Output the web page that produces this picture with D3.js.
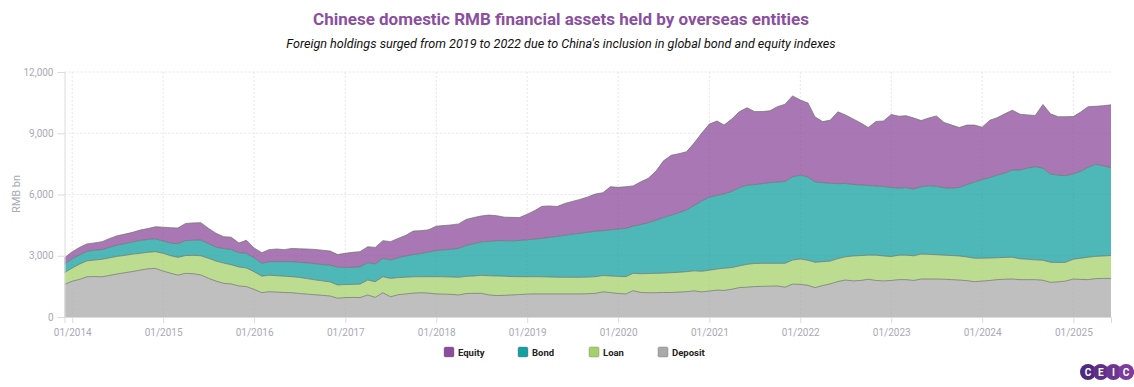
<!DOCTYPE html>
<html><head><meta charset="utf-8">
<script src="https://cdn.jsdelivr.net/npm/d3@7"></script>
<style>
html,body{margin:0;padding:0;background:#fff;}
svg{display:block;font-family:Roboto,"Noto Sans",sans-serif;}
</style></head>
<body><svg id="chart" width="1134" height="387"></svg>
<script>
// Monthly data, Dec 2013 – Jun 2025 (RMB bn)
const startMonth = "2013-12";
const seriesNames = ["Equity", "Bond", "Loan", "Deposit"];
const deposit = [1600,1750,1850,1970,1980,1970,2040,2110,2170,2230,2300,2360,2380,2250,2140,2050,2140,2120,2060,1900,1760,1650,1620,1520,1490,1350,1190,1240,
1220,1200,1190,1150,1120,1090,1060,1030,920,950,960,950,1080,960,1190,990,1090,1130,1170,1190,1170,1130,1120,1110,1080,1150,1160,1160,
1080,1050,1060,1080,1100,1120,1130,1130,1130,1130,1130,1130,1130,1140,1160,1230,1200,1150,1130,1290,1200,1190,1190,1200,1200,1220,1240,1280,
1230,1270,1320,1300,1360,1440,1460,1490,1500,1510,1520,1460,1610,1600,1550,1440,1540,1620,1740,1810,1770,1790,1850,1790,1770,1790,1830,
1830,1790,1860,1860,1860,1850,1830,1810,1780,1730,1760,1790,1830,1850,1860,1830,1830,1830,1800,1700,1720,1760,1860,1840,1830,1880,1890,1890];
const loan = [580,650,750,780,810,860,860,860,850,850,820,810,820,870,860,870,870,900,940,980,980,990,940,930,910,870,810,810,
800,800,785,790,760,730,710,690,650,640,640,660,730,770,785,900,840,820,800,785,805,845,850,850,865,840,850,880,
940,960,940,900,875,855,845,840,830,820,815,815,815,815,815,800,810,840,845,850,920,940,950,950,970,970,980,980,
1010,1020,1030,1090,1060,1060,1120,1130,1130,1120,1110,1170,1180,1240,1230,1240,1170,1120,1120,1140,1220,1220,1180,1240,1220,1170,1200,
1200,1210,1220,1210,1190,1180,1180,1180,1160,1150,1120,1100,1070,1070,1070,1020,1000,970,980,980,950,920,970,1040,1100,1090,1100,1120];
const bond = [420,450,450,470,480,470,520,550,580,600,630,630,630,600,620,670,730,740,770,720,680,710,750,700,720,680,630,660,
690,710,735,740,770,790,800,820,870,840,830,850,850,870,895,900,970,1040,1090,1135,1205,1275,1320,1360,1415,1510,1580,1640,
1680,1730,1740,1750,1775,1805,1845,1880,1940,2000,2055,2115,2155,2195,2225,2200,2260,2320,2365,2310,2410,2490,2600,2720,2820,2920,3020,3200,
3440,3580,3610,3640,3730,3830,3880,3860,3900,3950,3980,4010,4070,4110,4070,3940,3870,3810,3670,3590,3500,3460,3410,3390,3400,3390,3280,
3310,3270,3300,3360,3350,3300,3300,3360,3550,3730,3850,3940,4050,4130,4270,4350,4460,4560,4510,4320,4280,4240,4180,4270,4400,4510,4410,4310];
const equity = [300,350,370,360,360,390,430,460,460,470,510,530,590,680,750,770,840,850,850,750,680,580,600,470,640,480,520,590,
620,590,650,660,680,700,700,690,620,690,740,740,780,810,870,900,950,1010,1150,1120,1090,1200,1190,1190,1200,1280,1280,1270,
1290,1220,1150,1150,1120,1250,1400,1570,1540,1460,1560,1600,1660,1730,1820,1860,2110,2040,2040,1970,2090,2170,2410,2780,2930,2890,2850,3060,
3320,3580,3640,3370,3550,3720,3790,3580,3530,3520,3690,3780,3970,3680,3630,3180,2990,3090,3520,3360,3210,3030,2840,3160,3210,3570,3520,
3520,3480,3240,3320,3450,3200,3090,2930,2910,2790,2570,2810,2810,2900,2930,2730,2610,2510,3120,2950,2860,2890,2810,2900,2970,2840,2950,3070];
const yTicks = [0, 3000, 6000, 9000, 12000];
const xTickYears = [2014,2015,2016,2017,2018,2019,2020,2021,2022,2023,2024,2025];
const fillColors = {Equity:"#8e4a9c", Bond:"#13a0a0", Loan:"#a6d16a", Deposit:"#a9a9a9"};

const parse = d3.utcParse("%Y-%m");
const t0 = parse(startMonth);
const rows = deposit.map((d,i)=>({date:d3.utcMonth.offset(t0,i), Deposit:d, Loan:loan[i], Bond:bond[i], Equity:equity[i]}));

const svg = d3.select("#chart");
const W=1134, H=387;
const m = {left:64.5, right:1111, top:72, bottom:317};
const cx = 561;

const x = d3.scaleUtc().domain([rows[0].date, rows[rows.length-1].date]).range([m.left, m.right]);
const y = d3.scaleLinear().domain([0,12000]).range([m.bottom, m.top]);

// Title
svg.append("text").attr("x",cx).attr("y",25).attr("text-anchor","middle")
  .attr("font-size",17).attr("font-weight",700).attr("fill","#8b4f9f")
  .text("Chinese domestic RMB financial assets held by overseas entities");
svg.append("text").attr("x",cx).attr("y",48).attr("text-anchor","middle")
  .attr("font-size",12.6).attr("font-style","italic").attr("fill","#111")
  .text("Foreign holdings surged from 2019 to 2022 due to China's inclusion in global bond and equity indexes");

// Grid
const xTickDates = xTickYears.map(yr=>new Date(Date.UTC(yr,0,1)));
svg.append("g").selectAll("line").data(yTicks).join("line")
  .attr("x1",m.left).attr("x2",m.right).attr("y1",d=>y(d)).attr("y2",d=>y(d))
  .attr("stroke","#e6e6e6").attr("stroke-dasharray","2,2");
svg.append("g").selectAll("line").data(xTickDates).join("line")
  .attr("x1",d=>x(d)).attr("x2",d=>x(d)).attr("y1",m.top).attr("y2",m.bottom)
  .attr("stroke","#e6e6e6").attr("stroke-dasharray","2,2");

// Stack
const stack = d3.stack().keys(["Deposit","Loan","Bond","Equity"]);
const layers = stack(rows);
const area = d3.area().x(d=>x(d.data.date)).y0(d=>y(d[0])).y1(d=>y(d[1]));
const line = d3.line().x(d=>x(d.data.date)).y(d=>y(d[1]));
svg.append("g").selectAll("path").data(layers).join("path")
  .attr("d",area).attr("fill",d=>fillColors[d.key]).attr("fill-opacity",0.75);
svg.append("g").selectAll("path").data(layers).join("path")
  .attr("d",line).attr("fill","none").attr("stroke","#6f6f6f").attr("stroke-width",0.9).attr("stroke-opacity",0.8);

// Axes
const yAxis = d3.axisLeft(y).tickValues(yTicks).tickFormat(d3.format(",")).tickSize(7).tickPadding(4);
const gy = svg.append("g").attr("transform",`translate(${m.left},0)`).call(yAxis);
gy.select(".domain").attr("stroke","#dcdcdc");
gy.selectAll(".tick line").attr("stroke","#dcdcdc");
gy.selectAll("text").attr("fill","#a9a9b4").attr("font-size",10).attr("font-family","Roboto");

const xAxis = d3.axisBottom(x).tickValues(xTickDates).tickFormat(d3.utcFormat("%m/%Y")).tickSize(6).tickPadding(6);
const gx = svg.append("g").attr("transform",`translate(0,${m.bottom})`).call(xAxis);
gx.select(".domain").attr("stroke","#dcdcdc");
gx.selectAll(".tick line").attr("stroke","#dcdcdc");
gx.selectAll("text").attr("fill","#a9a9b4").attr("font-size",10).attr("font-family","Roboto");

// Y title
svg.append("text").attr("transform","translate(20,194) rotate(-90)").attr("text-anchor","middle")
  .attr("font-size",11).attr("fill","#a9a9b4").text("RMB bn");

// Legend
const legendX = [444, 518, 589, 658];
const lg = svg.append("g").selectAll("g").data(seriesNames).join("g")
  .attr("transform",(d,i)=>`translate(${legendX[i]},347)`);
lg.append("rect").attr("width",10).attr("height",10).attr("rx",1.5)
  .attr("fill",d=>fillColors[d]).attr("stroke","#777").attr("stroke-width",0.4);
lg.append("text").attr("x",14).attr("y",8.5).attr("font-size",9.5).attr("font-weight",700).attr("fill","#222").text(d=>d);

// CEIC logo
const logo = svg.append("g").attr("transform","translate(1088,372)");
const letters = ["C","E","I","C"];
const lc = ["#4e2a7e","#5e2f88","#6d3592","#7c3c9c"];
logo.selectAll("circle").data(letters).join("circle")
  .attr("cx",(d,i)=>i*12.7).attr("cy",0).attr("r",8).attr("fill",(d,i)=>lc[i]);
logo.selectAll("text").data(letters).join("text")
  .attr("x",(d,i)=>i*12.7).attr("y",3.5).attr("text-anchor","middle").attr("font-size",10)
  .attr("font-weight",700).attr("fill","#fff").text(d=>d);
</script>
</body></html>
